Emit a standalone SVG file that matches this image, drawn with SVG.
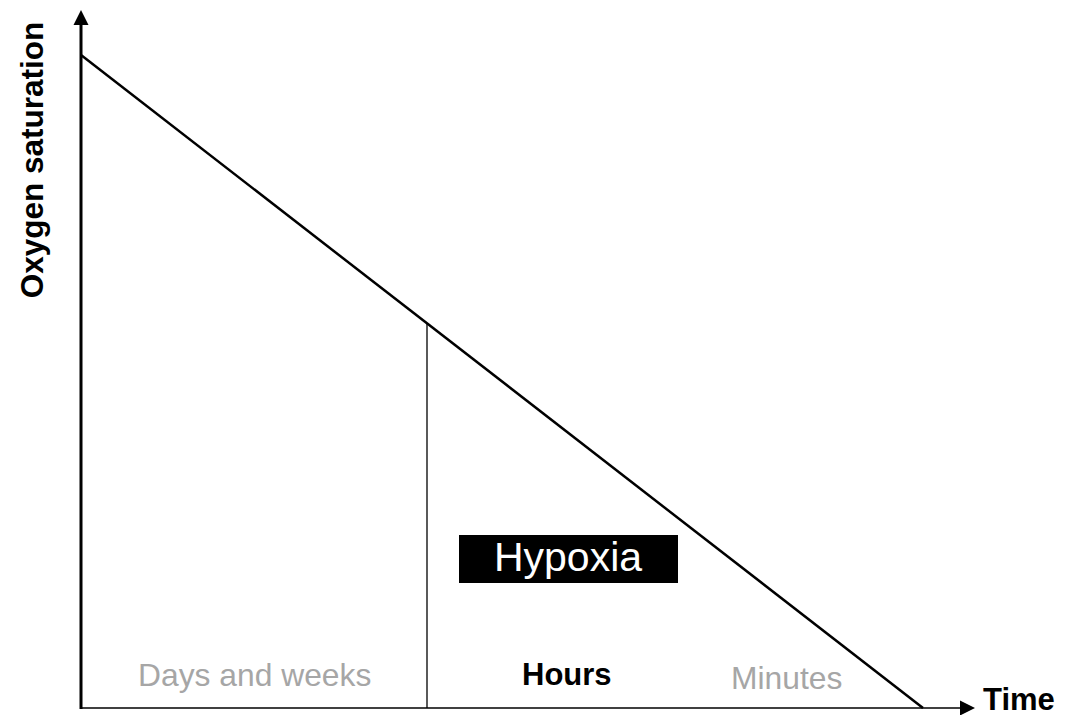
<svg xmlns="http://www.w3.org/2000/svg" width="1069" height="715" viewBox="0 0 1069 715">
<style>
.ax{stroke:#000;stroke-width:3;fill:none}
.ln{stroke:#000;stroke-width:2.5;fill:none}
.thin{stroke:#000;stroke-width:1.3;fill:none}
.t{font-family:"Liberation Sans",Arial,sans-serif}
.b{font-weight:bold}
.g{fill:#a6a6a6}
</style>
<rect width="1069" height="715" fill="#fff"/>
<g id="connectors">
<line class="ax" x1="81" y1="709" x2="81" y2="25"/>
<path d="M73.5,25 L88.5,25 L81,10 Z" fill="#000"/>
<line class="thin" x1="81" y1="708" x2="960" y2="708"/>
<path d="M960,700.5 L960,715.5 L975,708 Z" fill="#000"/>
<line class="ln" x1="81" y1="55" x2="923" y2="708"/>
<line class="thin" x1="427" y1="323" x2="427" y2="708"/>
</g>
<g id="y-label"><text class="t b" font-size="31.5" transform="translate(43,160) rotate(-90)" text-anchor="middle">Oxygen saturation</text></g>
<g id="x-label"><text class="t b" font-size="31" x="983" y="710">Time</text></g>
<g id="hypoxia">
<rect x="459" y="535" width="219" height="48" fill="#000"/>
<text class="t" font-size="41" x="568" y="571" text-anchor="middle" fill="#fff">Hypoxia</text>
</g>
<g id="days"><text class="t g" font-size="31.8" x="138" y="686">Days and weeks</text></g>
<g id="hours"><text class="t b" font-size="31" x="522" y="685">Hours</text></g>
<g id="minutes"><text class="t g" font-size="31.8" x="731" y="689">Minutes</text></g>
</svg>
